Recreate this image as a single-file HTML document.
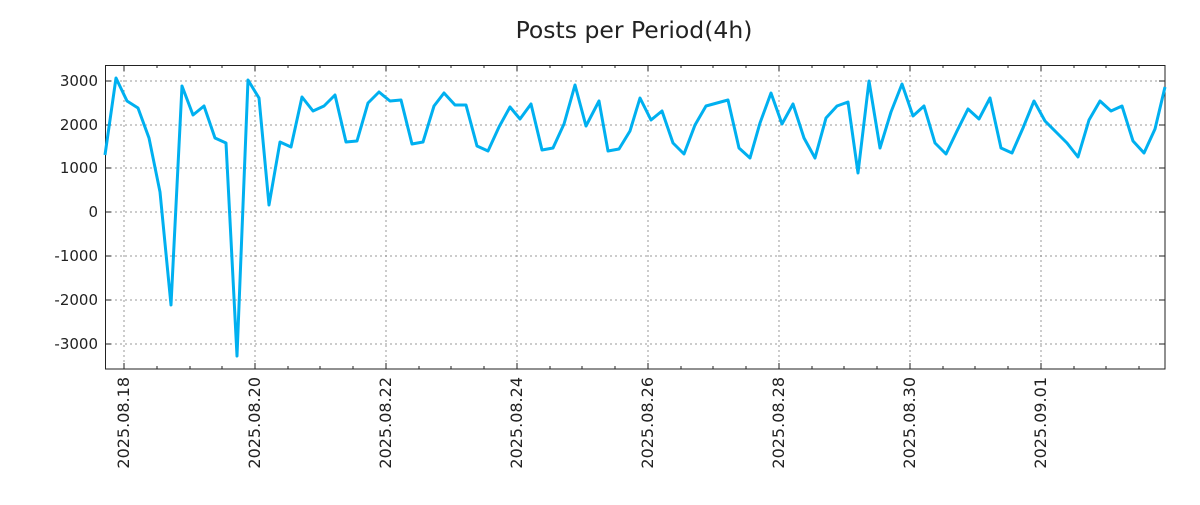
<!DOCTYPE html>
<html><head><meta charset="utf-8"><style>body{margin:0;background:#fff}</style></head><body>
<svg width="1200" height="500" xmlns="http://www.w3.org/2000/svg" font-family="DejaVu Sans, sans-serif">
<rect width="1200" height="500" fill="#fff"/>
<text x="634" y="38" font-size="23.5" text-anchor="middle" fill="#222">Posts per Period(4h)</text>
<g stroke="#999" stroke-dasharray="2,3" stroke-width="1">
<line x1="105" x2="1165" y1="81" y2="81"/><line x1="105" x2="1165" y1="125" y2="125"/><line x1="105" x2="1165" y1="168" y2="168"/><line x1="105" x2="1165" y1="212" y2="212"/><line x1="105" x2="1165" y1="256" y2="256"/><line x1="105" x2="1165" y1="300" y2="300"/><line x1="105" x2="1165" y1="344" y2="344"/>
<line y1="65" y2="369" x1="124" x2="124"/><line y1="65" y2="369" x1="255" x2="255"/><line y1="65" y2="369" x1="386" x2="386"/><line y1="65" y2="369" x1="517" x2="517"/><line y1="65" y2="369" x1="648" x2="648"/><line y1="65" y2="369" x1="779" x2="779"/><line y1="65" y2="369" x1="910" x2="910"/><line y1="65" y2="369" x1="1041" x2="1041"/>
</g>
<g stroke="#222" stroke-width="1">
<path d="M124 65v6M255 65v6M386 65v6M517 65v6M648 65v6M779 65v6M910 65v6M1041 65v6M124 369v-6M255 369v-6M386 369v-6M517 369v-6M648 369v-6M779 369v-6M910 369v-6M1041 369v-6"/>
<path d="M157 65v3M190 65v3M222 65v3M288 65v3M320 65v3M353 65v3M419 65v3M451 65v3M484 65v3M550 65v3M582 65v3M615 65v3M681 65v3M713 65v3M746 65v3M812 65v3M844 65v3M877 65v3M943 65v3M975 65v3M1008 65v3M1074 65v3M1106 65v3M1139 65v3M157 369v-3M190 369v-3M222 369v-3M288 369v-3M320 369v-3M353 369v-3M419 369v-3M451 369v-3M484 369v-3M550 369v-3M582 369v-3M615 369v-3M681 369v-3M713 369v-3M746 369v-3M812 369v-3M844 369v-3M877 369v-3M943 369v-3M975 369v-3M1008 369v-3M1074 369v-3M1106 369v-3M1139 369v-3"/>
<path d="M105 81h6M105 125h6M105 168h6M105 212h6M105 256h6M105 300h6M105 344h6M1165 81h-6M1165 125h-6M1165 168h-6M1165 212h-6M1165 256h-6M1165 300h-6M1165 344h-6"/>
<rect x="105.5" y="65.5" width="1059.5" height="303.5" fill="none"/>
</g>
<g font-size="15" fill="#222" text-anchor="end">
<text x="98" y="86">3000</text><text x="98" y="130">2000</text><text x="98" y="173">1000</text><text x="98" y="217">0</text><text x="98" y="261">-1000</text><text x="98" y="305">-2000</text><text x="98" y="349">-3000</text>
</g>
<g font-size="16" fill="#222" text-anchor="end">
<text transform="translate(129,377) rotate(-90)">2025.08.18</text>
<text transform="translate(260,377) rotate(-90)">2025.08.20</text>
<text transform="translate(391,377) rotate(-90)">2025.08.22</text>
<text transform="translate(522,377) rotate(-90)">2025.08.24</text>
<text transform="translate(653,377) rotate(-90)">2025.08.26</text>
<text transform="translate(784,377) rotate(-90)">2025.08.28</text>
<text transform="translate(915,377) rotate(-90)">2025.08.30</text>
<text transform="translate(1046,377) rotate(-90)">2025.09.01</text>
</g>
<polyline fill="none" stroke="#00b0f0" stroke-width="3" stroke-linejoin="round" points="105,155 116,78 127,101 138,108 149,138 160,192 171,305 182,86 193,115 204,106 215,138 226,143 237,356 248,80 259,98 269,205 280,142 291,147 302,97 313,111 324,106 335,95 346,142 357,141 368,103 379,92 390,101 401,100 412,144 423,142 434,106 444,93 455,105 466,105 477,146 488,151 499,127 510,107 520,119 531,104 542,150 553,148 564,124 575,85 586,126 599,101 608,151 619,149 630,131 640,98 651,120 662,111 673,143 684,154 695,125 706,106 717,103 728,100 739,148 750,158 760,123 771,93 782,124 793,104 804,138 815,158 826,118 837,106 848,102 858,173 869,81 880,148 891,112 902,84 913,116 924,106 935,143 946,154 957,131 968,109 979,119 990,98 1001,148 1012,153 1023,128 1034,101 1045,121 1056,132 1067,143 1078,157 1089,120 1100,101 1111,111 1122,106 1133,141 1144,153 1155,129 1165,87"/>
</svg>
</body></html>
